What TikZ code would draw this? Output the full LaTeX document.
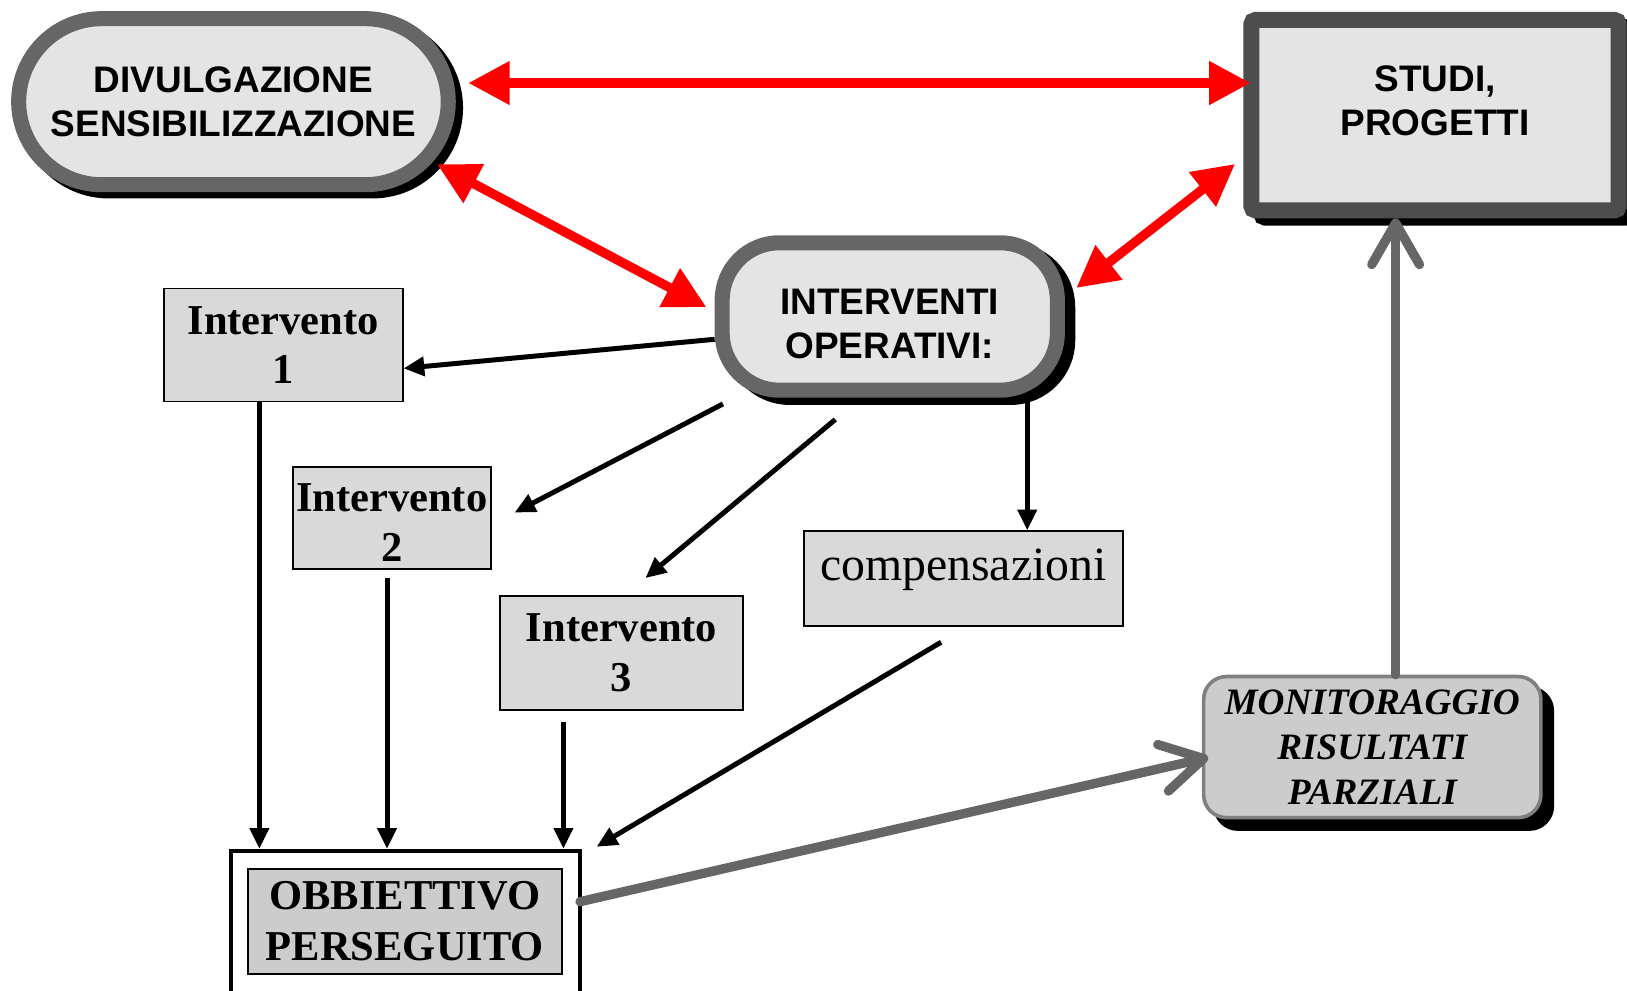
\documentclass[tikz,border=0pt]{standalone}
\usepackage{fontspec}
\setmainfont{Liberation Serif}
\newfontfamily\arialfont{Liberation Sans}
\usetikzlibrary{arrows.meta}
\definecolor{pillgray}{HTML}{666666}
\definecolor{pillfill}{HTML}{E4E4E4}
\definecolor{studiedge}{HTML}{4D4D4D}
\definecolor{boxfill}{HTML}{D9D9D9}
\definecolor{monitfill}{HTML}{CCCCCC}
\definecolor{monitedge}{HTML}{808080}
\begin{document}
\begin{tikzpicture}[x=1pt,y=-1pt,
    pill/.style={draw=pillgray,fill=pillfill,line width=14.5pt,inner sep=0pt},
    shadowed/.style 2 args={preaction={draw=black,fill=black,transform canvas={shift={(#1,#2)}}}},
    sanstext/.style={font=\arialfont\bfseries\fontsize{35.6}{42.5}\selectfont,align=center},
    intbox/.style={draw=black,fill=boxfill,line width=1.8pt,inner sep=0pt,align=center,font=\bfseries\fontsize{41}{48}\selectfont},
    redarrow/.style={red,line width=9pt,{Triangle[length=40pt,width=40pt]}-{Triangle[length=40pt,width=40pt]}},
    blackarrow/.style={black,line width=4.8pt,-{Triangle[length=20pt,width=18pt]}},
    grayarrow/.style={draw=pillgray,line width=9pt,line cap=round,-{Straight Barb[length=40pt,width=46pt,round]}}]
    \useasboundingbox (0,0) rectangle (1568,955);
    \clip (0,0) rectangle (1568,955);
    \node[pill,sanstext,shadowed={7pt}{-6pt},minimum width=414pt,minimum height=160pt,rounded corners=80pt] (divulg) at (225,98) {DIVULGAZIONE\\SENSIBILIZZAZIONE};
    \node[pill,draw=studiedge,line width=15.4pt,shadowed={9.5pt}{-7pt},minimum width=354pt,minimum height=183.5pt,rounded corners=4pt,label={[sanstext,yshift=14pt]center:{STUDI,\\PROGETTI}}] (studi) at (1383,111) {};
    \node[pill,shadowed={10pt}{-7pt},minimum width=323pt,minimum height=142pt,rounded corners=55pt,label={[sanstext,yshift=-7.5pt]center:{INTERVENTI\\OPERATIVI:}}] (operativi) at (857.5,305) {};
    \node[intbox,minimum width=230pt,minimum height=109pt] (int1) at (273,332.5) {Intervento\\1};
    \node[intbox,minimum width=191pt,minimum height=98pt,label={[intbox,draw=none,fill=none,yshift=-5pt]center:{Intervento\\2}}] (int2) at (377.5,499) {};
    \node[intbox,minimum width=234pt,minimum height=110pt] (int3) at (599,629) {Intervento\\3};
    \node[draw=black,fill=boxfill,line width=1.8pt,inner sep=0pt,minimum width=307pt,minimum height=91pt,font=\fontsize{46}{50}\selectfont,text height=31pt,text depth=28pt] (comp) at (928.5,557.5) {compensazioni};
    \node[draw=monitedge,fill=monitfill,line width=3.5pt,inner sep=0pt,rounded corners=22pt,shadowed={11pt}{-11pt},minimum width=325pt,minimum height=136pt,align=center,font=\bfseries\itshape\fontsize{35.9}{43}\selectfont] (monit) at (1322.5,720) {MONITORAGGIO\\RISULTATI\\PARZIALI};
    \node[draw=black,fill=white,line width=3.9pt,minimum width=336.5pt,minimum height=200pt] (obframe) at (390.75,920) {};
    \node[draw=black,fill=monitfill,line width=2pt,inner sep=0pt,minimum width=302.5pt,minimum height=101.5pt,align=center,font=\bfseries\fontsize{41}{49}\selectfont] (obiettivo) at (390.25,888) {OBBIETTIVO\\PERSEGUITO};
    \draw[redarrow] ([xshift=12pt,yshift=18pt]divulg.east) -- ([xshift=7pt,yshift=31pt]studi.west);
    \draw[redarrow] ([xshift=-18pt,yshift=27pt]divulg.south east) -- ([xshift=-8pt,yshift=9pt]operativi.west);
    \draw[redarrow] ([xshift=-8pt,yshift=-47pt]studi.west) -- ([xshift=11pt,yshift=27.5pt]operativi.east);
    \draw[blackarrow] ([yshift=-22pt]operativi.west) -- ([yshift=-22.5pt]int1.east);
    \draw[blackarrow] ([xshift=8pt,yshift=-6pt]operativi.south west) -- ([xshift=22pt,yshift=5pt]int2.east);
    \draw[blackarrow] ([xshift=-52.5pt,yshift=-21pt]operativi.south) -- ([xshift=23pt,yshift=16pt]int3.north);
    \draw[blackarrow] ([xshift=132.5pt,yshift=-4pt]operativi.south) -- ([xshift=61.5pt]comp.north);
    \draw[blackarrow] ([xshift=-23pt]int1.south) -- ([xshift=-23pt]int1.south |- obframe.north);
    \draw[blackarrow] ([xshift=-4.5pt,yshift=-8pt]int2.south) -- ([xshift=-4.5pt]int2.south |- obframe.north);
    \draw[blackarrow] ([xshift=-56pt,yshift=-11pt]int3.south) -- ([xshift=-56pt]int3.south |- obframe.north);
    \draw[blackarrow] ([xshift=-21.5pt,yshift=-15pt]comp.south) -- ([xshift=14pt,yshift=2pt]obframe.north east);
    \draw[grayarrow] ([xshift=-2pt,yshift=51pt]obframe.east) -- ([xshift=6pt,yshift=-10pt]monit.west);
    \draw[grayarrow] ([xshift=22.5pt]monit.north) -- ([xshift=22.5pt]monit.north |- studi.south);
\end{tikzpicture}
\end{document}
